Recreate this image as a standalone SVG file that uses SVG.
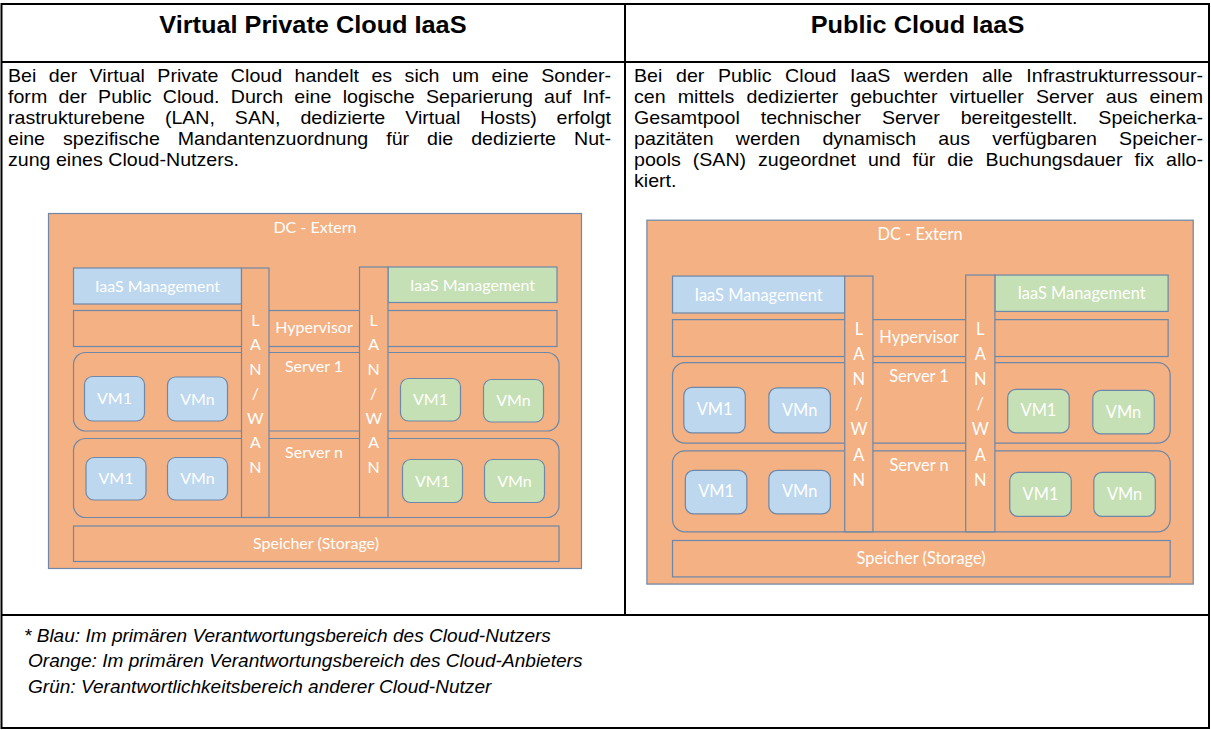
<svg xmlns="http://www.w3.org/2000/svg" width="1211" height="730" viewBox="0 0 1211 730">
<style>
.bg{fill:#ffffff}
.tbl{fill:none;stroke:#000;stroke-width:2}
.h{font-family:"Liberation Sans",Arial,sans-serif;font-weight:bold;font-size:23px;fill:#000;text-anchor:middle}
.b{font-family:"Liberation Sans",Arial,sans-serif;font-size:18px;fill:#000}
.lg{font-family:"Liberation Sans",Arial,sans-serif;font-style:italic;font-size:18px;fill:#000}
.o{fill:#F4B183;stroke:#6d88a8;stroke-width:1.2}
.bl{fill:#BDD7EE;stroke:#6d88a8;stroke-width:1.2}
.gr{fill:#C5E0B4;stroke:#6d88a8;stroke-width:1.2}
.t{font-family:Lato,"Open Sans",sans-serif;font-size:16px;fill:#ffffff;text-anchor:middle}
</style>
<rect class="bg" x="0" y="0" width="1211" height="730"/>
<g id="table">
<rect class="tbl" x="1.5" y="4" width="1207.5" height="724"/>
<line class="tbl" x1="1.5" y1="62" x2="1209" y2="62"/>
<line class="tbl" x1="1.5" y1="615" x2="1209" y2="615"/>
<line class="tbl" x1="625" y1="4" x2="625" y2="615"/>
</g>
<g id="headings" transform="scale(1.1,1)">
<text class="h" x="284.5" y="33">Virtual Private Cloud IaaS</text>
<text class="h" x="834.1" y="33">Public Cloud IaaS</text>
</g>
<g id="text-left" class="b" transform="scale(1.09,1)">
<text x="7.34" y="82" word-spacing="6.4" textLength="553.2" lengthAdjust="spacing">Bei der Virtual Private Cloud handelt es sich um eine Sonder-</text>
<text x="7.34" y="103" word-spacing="5.3" textLength="553.2" lengthAdjust="spacing">form der Public Cloud. Durch eine logische Separierung auf Inf-</text>
<text x="7.34" y="124" word-spacing="13.3" textLength="553.2" lengthAdjust="spacing">rastrukturebene (LAN, SAN, dedizierte Virtual Hosts) erfolgt</text>
<text x="7.34" y="145" word-spacing="11.5" textLength="553.2" lengthAdjust="spacing">eine spezifische Mandantenzuordnung für die dedizierte Nut-</text>
<text x="7.34" y="166">zung eines Cloud-Nutzers.</text>
</g>
<g id="text-right" class="b" transform="scale(1.09,1)">
<text x="581.65" y="82" word-spacing="7.5" textLength="522" lengthAdjust="spacing">Bei der Public Cloud IaaS werden alle Infrastrukturressour-</text>
<text x="581.65" y="103" word-spacing="6.1" textLength="522" lengthAdjust="spacing">cen mittels dedizierter gebuchter virtueller Server aus einem</text>
<text x="581.65" y="124" word-spacing="14.2" textLength="522" lengthAdjust="spacing">Gesamtpool technischer Server bereitgestellt. Speicherka-</text>
<text x="581.65" y="145" word-spacing="15.4" textLength="522" lengthAdjust="spacing">pazitäten werden dynamisch aus verfügbaren Speicher-</text>
<text x="581.65" y="166" word-spacing="6" textLength="522" lengthAdjust="spacing">pools (SAN) zugeordnet und für die Buchungsdauer fix allo-</text>
<text x="581.65" y="187">kiert.</text>
</g>
<g id="legend" class="lg" transform="scale(1.06,1)">
<text x="22.6" y="642">* Blau: Im primären Verantwortungsbereich des Cloud-Nutzers</text>
<text x="26.4" y="667">Orange: Im primären Verantwortungsbereich des Cloud-Anbieters</text>
<text x="26.4" y="693">Grün: Verantwortlichkeitsbereich anderer Cloud-Nutzer</text>
</g>
<g id="diagram-left">
<g id="L-dc"><rect class="o" x="48.5" y="213.5" width="533" height="355"/><text class="t" x="315" y="233">DC - Extern</text></g>
<g id="L-mgmt-blue"><rect class="bl" x="73.5" y="268" width="168" height="36"/><text class="t" x="157.5" y="292">IaaS Management</text></g>
<g id="L-mgmt-green"><rect class="gr" x="388" y="267" width="169" height="35.5"/><text class="t" x="472.5" y="290.5">IaaS Management</text></g>
<g id="L-hypervisor"><rect class="o" x="73.5" y="310.5" width="483.5" height="36"/><text class="t" x="314" y="333">Hypervisor</text></g>
<g id="L-server1"><rect class="o" x="73.5" y="352.5" width="485.5" height="78.5" rx="12"/><text class="t" x="314" y="371.5">Server 1</text></g>
<g id="L-servern"><rect class="o" x="73.5" y="438.5" width="485.5" height="79" rx="12"/><text class="t" x="314" y="458">Server n</text></g>
<g id="L-storage"><rect class="o" x="73.5" y="526" width="485.5" height="35.5"/><text class="t" x="316" y="549">Speicher (Storage)</text></g>
<g id="L-s1-vm1-blue"><rect class="bl" x="84.5" y="376.5" width="60" height="44.5" rx="8"/><text class="t" x="114.5" y="404">VM1</text></g>
<g id="L-s1-vmn-blue"><rect class="bl" x="167.5" y="377" width="60" height="44" rx="8"/><text class="t" x="197.5" y="404.5">VMn</text></g>
<g id="L-s1-vm1-green"><rect class="gr" x="400.5" y="378.5" width="60" height="42.5" rx="8"/><text class="t" x="430.5" y="405">VM1</text></g>
<g id="L-s1-vmn-green"><rect class="gr" x="483.5" y="379.5" width="60" height="42.5" rx="8"/><text class="t" x="513.5" y="406">VMn</text></g>
<g id="L-sn-vm1-blue"><rect class="bl" x="86" y="457.5" width="60" height="42.5" rx="8"/><text class="t" x="116" y="484">VM1</text></g>
<g id="L-sn-vmn-blue"><rect class="bl" x="167.5" y="457.5" width="60" height="42.5" rx="8"/><text class="t" x="197.5" y="484">VMn</text></g>
<g id="L-sn-vm1-green"><rect class="gr" x="402.5" y="459.5" width="60" height="43" rx="8"/><text class="t" x="432.5" y="486.5">VM1</text></g>
<g id="L-sn-vmn-green"><rect class="gr" x="484.5" y="459.5" width="60" height="43" rx="8"/><text class="t" x="514.5" y="486.5">VMn</text></g>
<g id="L-lan1"><rect class="o" x="241.5" y="268" width="27.5" height="249.5"/>
<text class="t" x="255.3" y="325.5">L</text><text class="t" x="255.3" y="350">A</text><text class="t" x="255.3" y="374.5">N</text><text class="t" x="255.3" y="399">/</text><text class="t" x="255.3" y="423.5">W</text><text class="t" x="255.3" y="448">A</text><text class="t" x="255.3" y="472.5">N</text></g>
<g id="L-lan2"><rect class="o" x="359.5" y="267" width="28.5" height="250.5"/>
<text class="t" x="373.7" y="325.5">L</text><text class="t" x="373.7" y="350">A</text><text class="t" x="373.7" y="374.5">N</text><text class="t" x="373.7" y="399">/</text><text class="t" x="373.7" y="423.5">W</text><text class="t" x="373.7" y="448">A</text><text class="t" x="373.7" y="472.5">N</text></g>
</g>
<g id="diagram-right" transform="translate(646.7,220) scale(1.025) translate(-48.3,-213.3)">
<g id="R-dc"><rect class="o" x="48.5" y="213.5" width="533" height="355"/><text class="t" x="315" y="233">DC - Extern</text></g>
<g id="R-mgmt-blue"><rect class="bl" x="73.5" y="268" width="168" height="36"/><text class="t" x="157.5" y="292">IaaS Management</text></g>
<g id="R-mgmt-green"><rect class="gr" x="388" y="267" width="169" height="35.5"/><text class="t" x="472.5" y="290.5">IaaS Management</text></g>
<g id="R-hypervisor"><rect class="o" x="73.5" y="310.5" width="483.5" height="36"/><text class="t" x="314" y="333">Hypervisor</text></g>
<g id="R-server1"><rect class="o" x="73.5" y="352.5" width="485.5" height="78.5" rx="12"/><text class="t" x="314" y="371.5">Server 1</text></g>
<g id="R-servern"><rect class="o" x="73.5" y="438.5" width="485.5" height="79" rx="12"/><text class="t" x="314" y="458">Server n</text></g>
<g id="R-storage"><rect class="o" x="73.5" y="526" width="485.5" height="35.5"/><text class="t" x="316" y="549">Speicher (Storage)</text></g>
<g id="R-s1-vm1-blue"><rect class="bl" x="84.5" y="376.5" width="60" height="44.5" rx="8"/><text class="t" x="114.5" y="404">VM1</text></g>
<g id="R-s1-vmn-blue"><rect class="bl" x="167.5" y="377" width="60" height="44" rx="8"/><text class="t" x="197.5" y="404.5">VMn</text></g>
<g id="R-s1-vm1-green"><rect class="gr" x="400.5" y="378.5" width="60" height="42.5" rx="8"/><text class="t" x="430.5" y="405">VM1</text></g>
<g id="R-s1-vmn-green"><rect class="gr" x="483.5" y="379.5" width="60" height="42.5" rx="8"/><text class="t" x="513.5" y="406">VMn</text></g>
<g id="R-sn-vm1-blue"><rect class="bl" x="86" y="457.5" width="60" height="42.5" rx="8"/><text class="t" x="116" y="484">VM1</text></g>
<g id="R-sn-vmn-blue"><rect class="bl" x="167.5" y="457.5" width="60" height="42.5" rx="8"/><text class="t" x="197.5" y="484">VMn</text></g>
<g id="R-sn-vm1-green"><rect class="gr" x="402.5" y="459.5" width="60" height="43" rx="8"/><text class="t" x="432.5" y="486.5">VM1</text></g>
<g id="R-sn-vmn-green"><rect class="gr" x="484.5" y="459.5" width="60" height="43" rx="8"/><text class="t" x="514.5" y="486.5">VMn</text></g>
<g id="R-lan1"><rect class="o" x="241.5" y="268" width="27.5" height="249.5"/>
<text class="t" x="255.3" y="325.5">L</text><text class="t" x="255.3" y="350">A</text><text class="t" x="255.3" y="374.5">N</text><text class="t" x="255.3" y="399">/</text><text class="t" x="255.3" y="423.5">W</text><text class="t" x="255.3" y="448">A</text><text class="t" x="255.3" y="472.5">N</text></g>
<g id="R-lan2"><rect class="o" x="359.5" y="267" width="28.5" height="250.5"/>
<text class="t" x="373.7" y="325.5">L</text><text class="t" x="373.7" y="350">A</text><text class="t" x="373.7" y="374.5">N</text><text class="t" x="373.7" y="399">/</text><text class="t" x="373.7" y="423.5">W</text><text class="t" x="373.7" y="448">A</text><text class="t" x="373.7" y="472.5">N</text></g>
</g>
<g id="connectors"></g>
</svg>
